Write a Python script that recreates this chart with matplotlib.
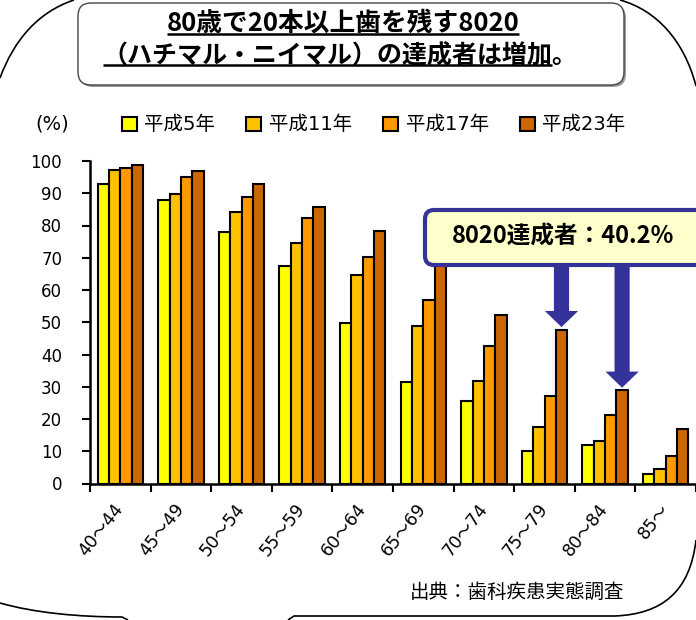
import matplotlib

matplotlib.use("Agg")

import matplotlib.pyplot as plt
import numpy as np
from matplotlib.patches import FancyArrow, FancyBboxPatch, PathPatch
from matplotlib.path import Path

plt.rcParams["font.family"] = ["DejaVu Sans", "Noto Sans CJK JP"]

# data (percentage with 20+ teeth)
age_groups = ["40～44", "45～49", "50～54", "55～59", "60～64",
              "65～69", "70～74", "75～79", "80～84", "85～"]
series_labels = ["平成5年", "平成11年", "平成17年", "平成23年"]
h5 = [92.9, 88.0, 77.9, 67.4, 49.7, 31.4, 25.6, 10.0, 11.8, 2.8]
h11 = [97.1, 89.9, 84.3, 74.6, 64.8, 48.8, 31.9, 17.6, 13.1, 4.6]
h17 = [97.8, 95.0, 88.9, 82.3, 70.1, 57.0, 42.5, 27.2, 21.1, 8.4]
h23 = [98.7, 97.0, 92.9, 85.6, 78.2, 69.6, 52.3, 47.7, 28.9, 17.0]
series_values = [h5, h11, h17, h23]
colors = ["#FFFF00", "#FFC000", "#FF9900", "#CC6600"]

title_lines = ["80歳で20本以上歯を残す8020", "（ハチマル・ニイマル）の達成者は増加。"]
callout_text = "8020達成者：40.2%"
callout_groups = [7, 8]
source_text = "出典：歯科疾患実態調査"

W, H = 696, 620
fig = plt.figure(figsize=(W / 100, H / 100), dpi=100)
ax = fig.add_axes([90 / W, (H - 483.5) / H, 606 / W, 322.5 / H])

x = np.arange(len(age_groups))
bar_w = 0.187
for i, (label, vals, color) in enumerate(zip(series_labels, series_values, colors)):
    ax.bar(x + (i - 1.5) * bar_w, vals, bar_w, color=color, edgecolor="black",
           linewidth=1.5, label=label, zorder=3)

ax.set_xlim(-0.5, len(age_groups) - 0.5)
ax.set_ylim(0, 100)
for side in ("top", "right"):
    ax.spines[side].set_visible(False)
for side in ("left", "bottom"):
    ax.spines[side].set_linewidth(1.8)

ax.set_xticks(np.arange(-0.5, len(age_groups), 1))
ax.set_xticks(x, minor=True)
ax.set_xticklabels(age_groups, minor=True, rotation=52, ha="right", va="center",
                   rotation_mode="anchor")
ax.tick_params(axis="x", which="major", direction="out", length=6, width=1.5,
               labelbottom=False)
ax.tick_params(axis="x", which="minor", length=0, pad=16, labelsize=12.5)
ax.set_yticks(np.arange(0, 101, 10))
ax.tick_params(axis="y", direction="out", length=6, width=1.5, pad=14, labelsize=12)

ax.legend(loc="center left", bbox_to_anchor=(122 / W, 1 - 125 / H),
          bbox_transform=fig.transFigure, ncol=4, frameon=False, fontsize=14,
          handlelength=0.75, handleheight=0.75, handletextpad=0.4,
          columnspacing=1.6, borderaxespad=0, borderpad=0)

# overlay in pixel coordinates (y downward) for frame, title and callout
deco = fig.add_axes([0, 0, 1, 1], zorder=5)
deco.set_xlim(0, W)
deco.set_ylim(H, 0)
deco.axis("off")
deco.patch.set_alpha(0)

frame_parts = [
    ([(0, 78), (14, 40), (38, 12), (74, 0)], [Path.MOVETO, Path.CURVE4, Path.CURVE4, Path.CURVE4]),
    ([(620, 0), (656, 10), (684, 40), (696, 86)], [Path.MOVETO, Path.CURVE4, Path.CURVE4, Path.CURVE4]),
    ([(0, 603), (35, 613), (80, 617), (122, 617), (128, 620)],
     [Path.MOVETO, Path.CURVE4, Path.CURVE4, Path.CURVE4, Path.LINETO]),
    ([(288, 620), (294, 616), (615, 616), (662, 614), (690, 592), (696, 540)],
     [Path.MOVETO, Path.LINETO, Path.LINETO, Path.CURVE4, Path.CURVE4, Path.CURVE4]),
]
for verts, codes in frame_parts:
    deco.add_patch(PathPatch(Path(verts, codes), fc="none", ec="black", lw=1.2, clip_on=False))

deco.add_patch(FancyBboxPatch((80, 5), 546, 82, boxstyle="round,pad=0,rounding_size=13",
                              fc="#9a9a9a", ec="none"))
deco.add_patch(FancyBboxPatch((78, 3), 546, 82, boxstyle="round,pad=0,rounding_size=13",
                              fc="white", ec="#444444", lw=1))
title_font = ["Noto Sans CJK JP", "DejaVu Sans"]
t1 = deco.text(343, 23, title_lines[0], ha="center", va="center", fontsize=18.5,
               fontweight="bold", family=title_font)
t2 = deco.text(340, 56, title_lines[1], ha="center", va="center", fontsize=18,
               fontweight="bold", family=title_font)

deco.text(52, 124, "(%)", ha="center", va="center", fontsize=14)
deco.text(410, 592, source_text, ha="left", va="center", fontsize=14)

deco.add_patch(FancyBboxPatch((425, 210), 300, 55, boxstyle="round,pad=0,rounding_size=9",
                              fc="#FFFFCC", ec="#333399", lw=3, clip_on=False))
deco.text(563, 237, callout_text, ha="center", va="center", fontsize=17,
          fontweight="bold", family=title_font)

# arrows from callout box down to the 平成23年 bars
y_start = ax.transData.inverted().transform(deco.transData.transform((0, 266)))[1]
for idx in callout_groups:
    xb = x[idx] + 1.5 * bar_w
    top = h23[idx] + 0.8
    ax.add_patch(FancyArrow(xb, y_start, 0, top - y_start, width=0.25, head_width=0.55,
                            head_length=5, length_includes_head=True, fc="#333399",
                            ec="none", clip_on=False, zorder=4))

# underline the title lines
fig.canvas.draw()
renderer = fig.canvas.get_renderer()
for t, trim in ((t1, 0), (t2, 1)):
    bb = t.get_window_extent(renderer)
    x0, x1 = bb.x0, bb.x1 - trim * t.get_fontsize() * 100 / 72
    y_line = H - bb.y0 - 3
    deco.plot([x0, x1], [y_line, y_line], color="black", lw=1.8, solid_capstyle="butt")

fig.savefig("out.png", dpi=100)
